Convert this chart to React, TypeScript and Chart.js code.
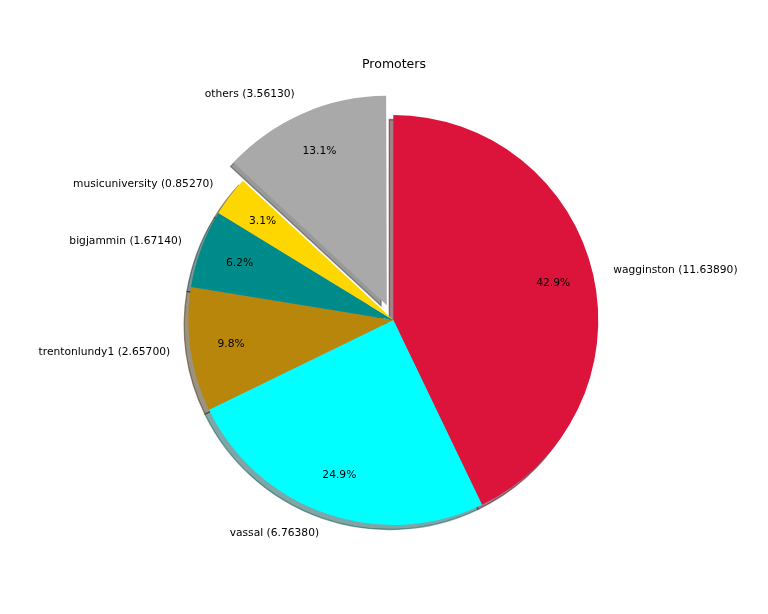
import React, { useEffect, useRef } from "react";
import { Chart, registerables } from "chart.js";

Chart.register(...registerables);

const labels = ["wagginston", "vassal", "trentonlundy1", "bigjammin", "musicuniversity", "others"];
const values = [11.6389, 6.7638, 2.657, 1.6714, 0.8527, 3.5613];
const colors = ["#DC143C", "#00FFFF", "#B8860B", "#008B8B", "#FFD700", "#A9A9A9"];
const explode = [0, 0, 0, 0, 0, 0.1];
const title = "Promoters";

const RADIUS = 205;
const FONT = '"DejaVu Sans", sans-serif';
const SHADOW_DX = -4;
const SHADOW_DY = 4.5;

const total = values.reduce((a, b) => a + b, 0);

// Chart.js arc offset -> effective shift = offset/4 * (1 + fix)
const offsets = values.map((v, i) => {
  const circ = (2 * Math.PI * v) / total;
  const fix = 1 - Math.sin(Math.min(Math.PI, circ));
  const desired = explode[i] * RADIUS;
  return (desired * 4) / (1 + fix);
});

function hexToRgb(hex: string) {
  const h = hex.replace("#", "");
  return [parseInt(h.slice(0, 2), 16), parseInt(h.slice(2, 4), 16), parseInt(h.slice(4, 6), 16)];
}

function arcGeom(el: any) {
  const p = el.getProps(["x", "y", "startAngle", "endAngle", "outerRadius", "circumference"], true);
  const off = (el.options.offset || 0) / 4;
  const half = (p.startAngle + p.endAngle) / 2;
  const fix = 1 - Math.sin(Math.min(Math.PI, p.circumference || 0));
  const shift = off * (1 + fix);
  return {
    cx: p.x + Math.cos(half) * shift,
    cy: p.y + Math.sin(half) * shift,
    r: p.outerRadius,
    start: p.startAngle,
    end: p.endAngle,
    half,
  };
}

const shadowPlugin = {
  id: "mplShadow",
  beforeDatasetsDraw(chart: any) {
    const ctx = chart.ctx;
    const meta = chart.getDatasetMeta(0);
    ctx.save();
    meta.data.forEach((el: any, i: number) => {
      const g = arcGeom(el);
      const [r, gg, b] = hexToRgb(colors[i]);
      const col = `rgba(${Math.round(r * 0.3)},${Math.round(gg * 0.3)},${Math.round(b * 0.3)},0.5)`;
      ctx.beginPath();
      ctx.moveTo(g.cx + SHADOW_DX, g.cy + SHADOW_DY);
      ctx.arc(g.cx + SHADOW_DX, g.cy + SHADOW_DY, g.r, g.start, g.end);
      ctx.closePath();
      ctx.fillStyle = col;
      ctx.fill();
      ctx.lineWidth = 1.3;
      ctx.strokeStyle = col;
      ctx.stroke();
    });
    ctx.restore();
  },
};

const labelPlugin = {
  id: "mplLabels",
  afterDatasetsDraw(chart: any) {
    const ctx = chart.ctx;
    const meta = chart.getDatasetMeta(0);
    ctx.save();
    ctx.fillStyle = "#000";
    ctx.font = `10.7px ${FONT}`;
    ctx.textBaseline = "middle";
    meta.data.forEach((el: any, i: number) => {
      const g = arcGeom(el);
      const lx = g.cx + 1.1 * g.r * Math.cos(g.half);
      const ly = g.cy + 1.1 * g.r * Math.sin(g.half);
      const xt = lx - el.x;
      ctx.textAlign = xt > 0 ? "left" : "right";
      ctx.fillText(`${labels[i]} (${values[i].toFixed(5)})`, lx, ly);
      const px = g.cx + 0.8 * g.r * Math.cos(g.half);
      const py = g.cy + 0.8 * g.r * Math.sin(g.half);
      ctx.textAlign = "center";
      ctx.fillText(`${((values[i] / total) * 100).toFixed(1)}%`, px, py);
    });
    ctx.font = `12.5px ${FONT}`;
    ctx.textAlign = "center";
    ctx.textBaseline = "alphabetic";
    ctx.fillText(title, 394, 67.5);
    ctx.restore();
  },
};

export default function App() {
  const ref = useRef<HTMLCanvasElement | null>(null);
  useEffect(() => {
    if (!ref.current) return;
    const chart = new Chart(ref.current, {
      type: "pie",
      data: {
        labels,
        datasets: [
          {
            data: values,
            backgroundColor: colors,
            borderWidth: 0,
            offset: offsets,
          },
        ],
      },
      options: {
        animation: false,
        responsive: false,
        events: [],
        radius: RADIUS,
        layout: { padding: { left: 20, right: 1.4, top: 29, bottom: 3 } },
        plugins: {
          legend: { display: false },
          title: { display: false },
          tooltip: { enabled: false },
        },
      } as any,
      plugins: [shadowPlugin, labelPlugin],
    });
    return () => chart.destroy();
  }, []);
  return (
    <div style={{ position: "fixed", left: 0, top: 0, width: 768, height: 614, background: "#fff" }}>
      <canvas ref={ref} width={768} height={614} style={{ width: 768, height: 614 }} />
    </div>
  );
}
